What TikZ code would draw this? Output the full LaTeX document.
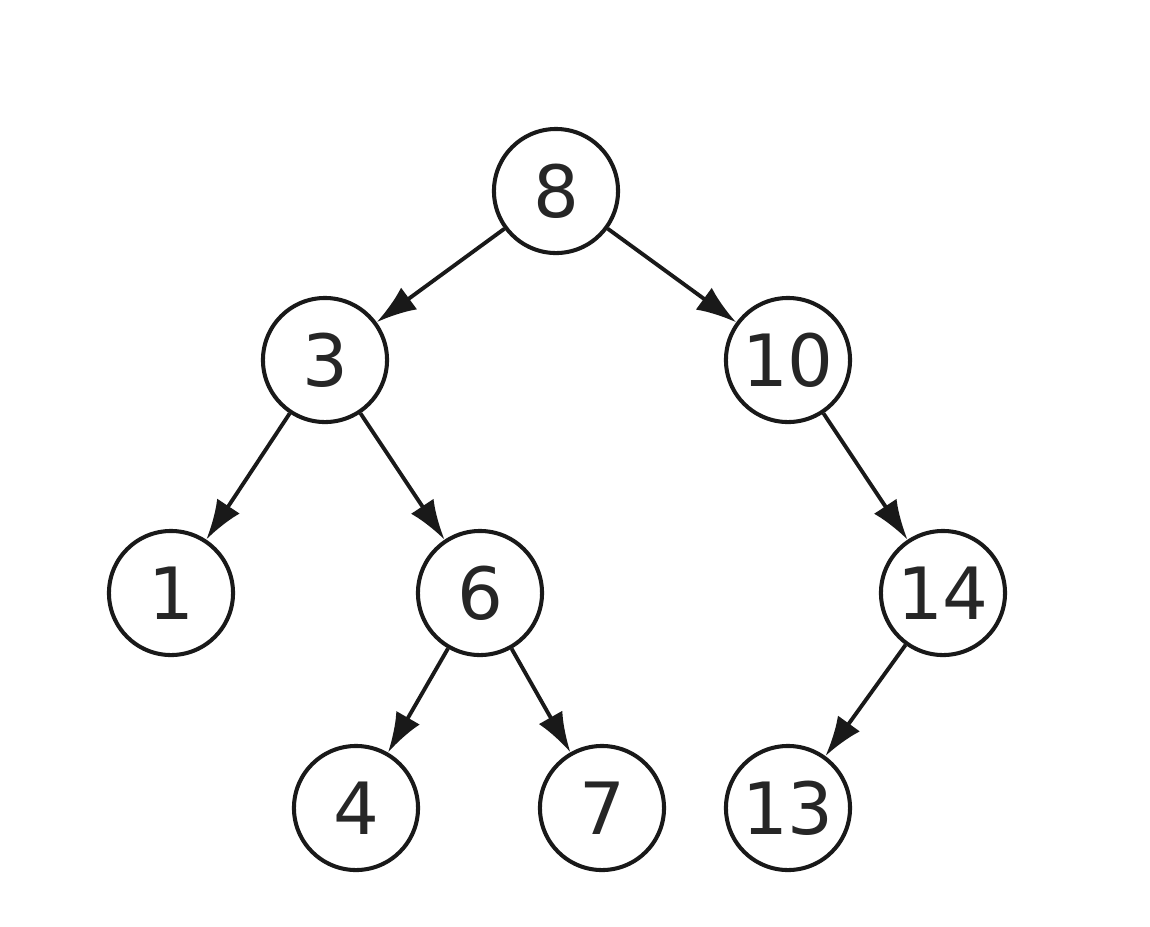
\documentclass[tikz,border=0pt]{standalone}
\usepackage{fontspec}
\setmainfont{DejaVu Sans}
\usetikzlibrary{arrows.meta}
\begin{document}
\begin{tikzpicture}[x=0.01cm,y=-0.01cm,
  tnode/.style={circle,draw=black!90,line width=1.15pt,minimum size=1.24cm,inner sep=0pt,
    font=\fontsize{20.5}{24}\selectfont,text=black!85},
  edge/.style={line width=1.1pt,draw=black!90,-{Latex[length=4mm,width=2.7mm]}}]
\useasboundingbox (0,0) rectangle (1150,926);
\node[tnode] (n8) at (556,191) {8};
\node[tnode] (n3) at (325,360) {3};
\node[tnode] (n10) at (788,360) {10};
\node[tnode] (n1) at (171,593) {1};
\node[tnode] (n6) at (480,593) {6};
\node[tnode] (n14) at (943,593) {14};
\node[tnode] (n4) at (356,808) {4};
\node[tnode] (n7) at (602,808) {7};
\node[tnode] (n13) at (788,808) {13};
\draw[edge] (n8) -- (n3);
\draw[edge] (n8) -- (n10);
\draw[edge] (n3) -- (n1);
\draw[edge] (n3) -- (n6);
\draw[edge] (n10) -- (n14);
\draw[edge] (n6) -- (n4);
\draw[edge] (n6) -- (n7);
\draw[edge] (n14) -- (n13);
\end{tikzpicture}
\end{document}
